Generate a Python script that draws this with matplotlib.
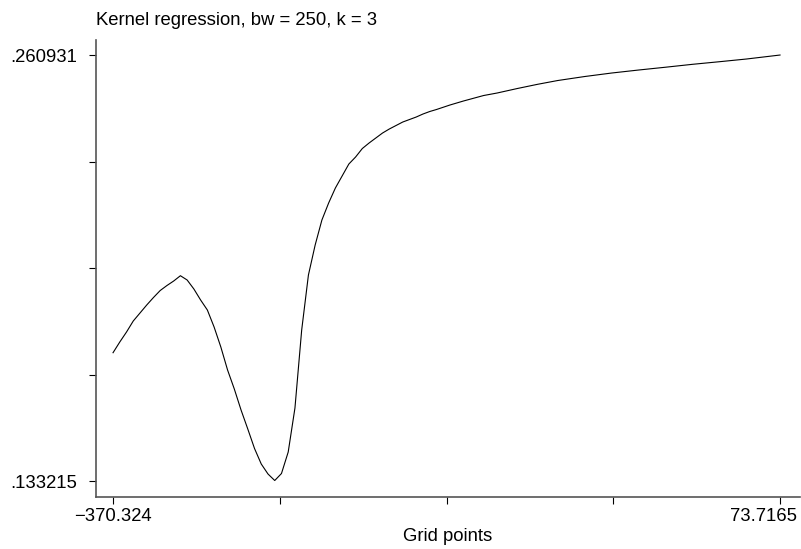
import matplotlib
matplotlib.use("Agg")
import matplotlib.pyplot as plt
from matplotlib.transforms import ScaledTranslation

plt.rcParams["font.family"] = ["Liberation Sans", "DejaVu Sans"]

# grid points and smoothed values
grid_x = [-370.324, -365.839, -361.353, -356.868, -352.383, -347.898, -343.412,
          -338.927, -334.442, -329.957, -325.471, -320.986, -316.501, -312.016,
          -307.530, -303.045, -298.560, -294.075, -289.589, -285.104, -280.619,
          -276.134, -271.648, -267.163, -262.678, -258.192, -253.707, -249.222,
          -244.737, -240.251, -235.766, -231.281, -226.796, -222.310, -217.825,
          -213.340, -208.855, -204.369, -199.884, -195.399, -190.914, -186.428,
          -181.943, -177.458, -172.973, -168.487, -164.002, -159.517, -155.032,
          -146.061, -137.090, -123.635, -114.664, -101.208, -87.753, -74.297,
          -56.356, -38.415, -20.474, -2.533, 15.408, 33.349, 51.290, 73.7165]
smooth_y = [0.171679, 0.174887, 0.177885, 0.181183, 0.183581, 0.185980, 0.188228,
            0.190327, 0.191826, 0.193175, 0.194764, 0.193475, 0.190777, 0.187479,
            0.184481, 0.179384, 0.173388, 0.166493, 0.160797, 0.154501, 0.148805,
            0.142959, 0.138312, 0.135314, 0.133365, 0.135464, 0.141909, 0.155100,
            0.178485, 0.194974, 0.203968, 0.211463, 0.216559, 0.221056, 0.224654,
            0.228252, 0.230350, 0.232899, 0.234547, 0.236046, 0.237545, 0.238745,
            0.239794, 0.240843, 0.241593, 0.242342, 0.243242, 0.243991, 0.244591,
            0.245940, 0.247139, 0.248788, 0.249537, 0.250887, 0.252146, 0.253285,
            0.254484, 0.255533, 0.256433, 0.257272, 0.258142, 0.258922, 0.259731,
            0.260931]

x_min, x_max = -370.324, 73.7165
y_min, y_max = 0.133215, 0.260931
x_ticks = [x_min + k * (x_max - x_min) / 4 for k in range(5)]
y_ticks = [y_min + k * (y_max - y_min) / 4 for k in range(5)]
x_ticklabels = ["\u2212370.324", "", "", "", "73.7165"]
y_ticklabels = [".133215", "", "", "", ".260931"]

fig = plt.figure(figsize=(8.01, 5.49), dpi=100)
ax = fig.add_axes([0.1199, 0.0947, 0.8789, 0.8324])

ax.plot(grid_x, smooth_y, color="black", linewidth=0.8)

ax.set_xlim(-381.64, 87.03)
ax.set_ylim(0.128418, 0.265428)

for side in ["top", "right"]:
    ax.spines[side].set_visible(False)
for side in ["left", "bottom"]:
    ax.spines[side].set_color("#555555")
    ax.spines[side].set_linewidth(1.2)

ax.set_xticks(x_ticks)
ax.set_xticklabels(x_ticklabels)
ax.set_yticks(y_ticks)
ax.set_yticklabels(y_ticklabels)
ax.tick_params(axis="both", direction="out", length=5, width=0.8,
               color="black", labelsize=13.3)
ax.tick_params(axis="x", pad=3)
ax.tick_params(axis="y", pad=8.5)

# keep the last x label inside the figure
lbl = ax.get_xticklabels()[-1]
lbl.set_transform(lbl.get_transform() + ScaledTranslation(-0.17, 0, fig.dpi_scale_trans))

ax.set_xlabel("Grid points", fontsize=13.3, labelpad=2)
ax.set_title("Kernel regression, bw = 250, k = 3", loc="left", fontsize=13.3, pad=11)

fig.savefig("out.png", dpi=100)
